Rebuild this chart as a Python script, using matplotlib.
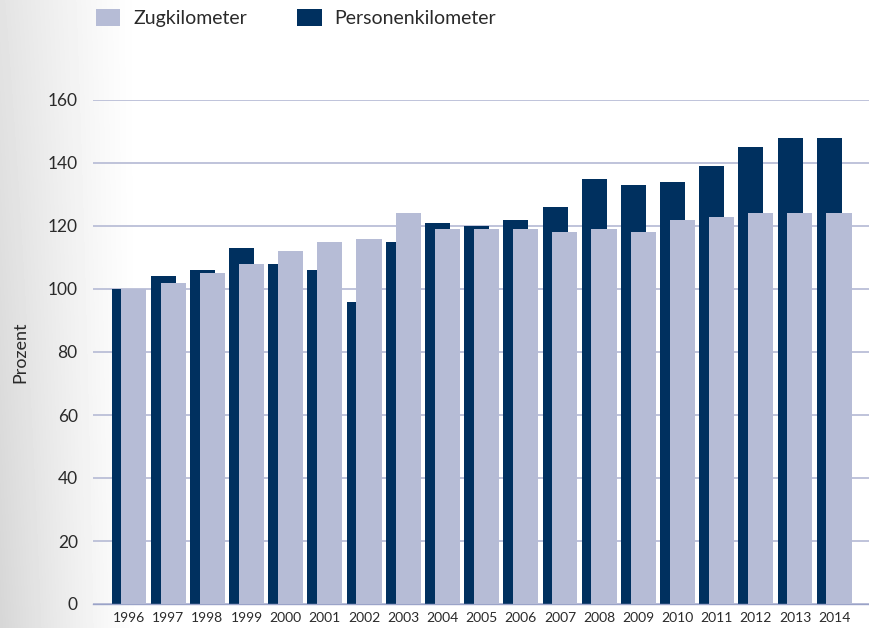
import numpy as np
import matplotlib
matplotlib.use("Agg")
import matplotlib.pyplot as plt

plt.rcParams['font.family'] = ['Lato', 'DejaVu Sans']

# data
years = ['1996', '1997', '1998', '1999', '2000', '2001', '2002', '2003', '2004', '2005',
         '2006', '2007', '2008', '2009', '2010', '2011', '2012', '2013', '2014']
personen_km = [100, 104, 106, 113, 108, 106, 96, 115, 121, 120,
               122, 126, 135, 133, 134, 139, 145, 148, 148]
zug_km = [100, 102, 105, 108, 112, 115, 116, 124, 119, 119,
          119, 118, 119, 118, 122, 123, 124, 124, 124]

dark = '#00305F'
light = '#B6BCD6'
grid_col = '#BFC3DA'
text_col = '#2a2a2a'

fig = plt.figure(figsize=(8.69, 6.28), dpi=100)

# grey gradient on the left side of the background
bg = fig.add_axes([0, 0, 1, 1], zorder=-10)
xx = np.linspace(0, 869, 869)
yy = np.linspace(0, 1, 628)
X, Y = np.meshgrid(xx, yy)
fade = np.clip(1 - X / 140.0, 0, 1) ** 1.2
shade = 1 - fade * (0.11 + 0.05 * Y)
bg.imshow(shade, cmap='gray', vmin=0, vmax=1, aspect='auto', extent=[0, 1, 0, 1])
bg.axis('off')

ax = fig.add_axes([93 / 869, 1 - 604 / 628, 1 - 93 / 869, 504 / 628])
ax.set_facecolor('none')

x = np.arange(len(years))
width = 0.64
off = 0.125
b1 = ax.bar(x - off, personen_km, width, color=dark, label='Personenkilometer', zorder=2)
b2 = ax.bar(x + off, zug_km, width, color=light, label='Zugkilometer', zorder=3)

ax.set_xlim(-0.92, len(years) - 1 + 0.89)
ax.set_ylim(0, 160)
ax.set_yticks(np.arange(0, 161, 20))
ax.set_xticks(x)
ax.set_xticklabels(years, fontsize=10, color=text_col)
ax.tick_params(axis='y', length=0, pad=11, labelsize=12.5, labelcolor=text_col)
ax.tick_params(axis='x', length=0, pad=6)

ax.grid(axis='y', color=grid_col, linewidth=1.4, zorder=0)
ax.set_axisbelow(True)
for s in ['top', 'right', 'left']:
    ax.spines[s].set_visible(False)
ax.spines['bottom'].set_color('#9aa3c8')
ax.spines['bottom'].set_linewidth(1.0)

ax.set_ylabel('Prozent', fontsize=13, color=text_col)
ax.yaxis.set_label_coords(-0.083, 0.5)

fig.legend(handles=[b2, b1], loc='upper left', bbox_to_anchor=(96 / 869, 1 - 9 / 628),
           ncol=2, frameon=False, fontsize=14, borderpad=0, borderaxespad=0,
           handlelength=1.24, handleheight=0.98, handletextpad=0.67, columnspacing=2.6,
           labelcolor=text_col)

fig.savefig('out.png', dpi=100)
